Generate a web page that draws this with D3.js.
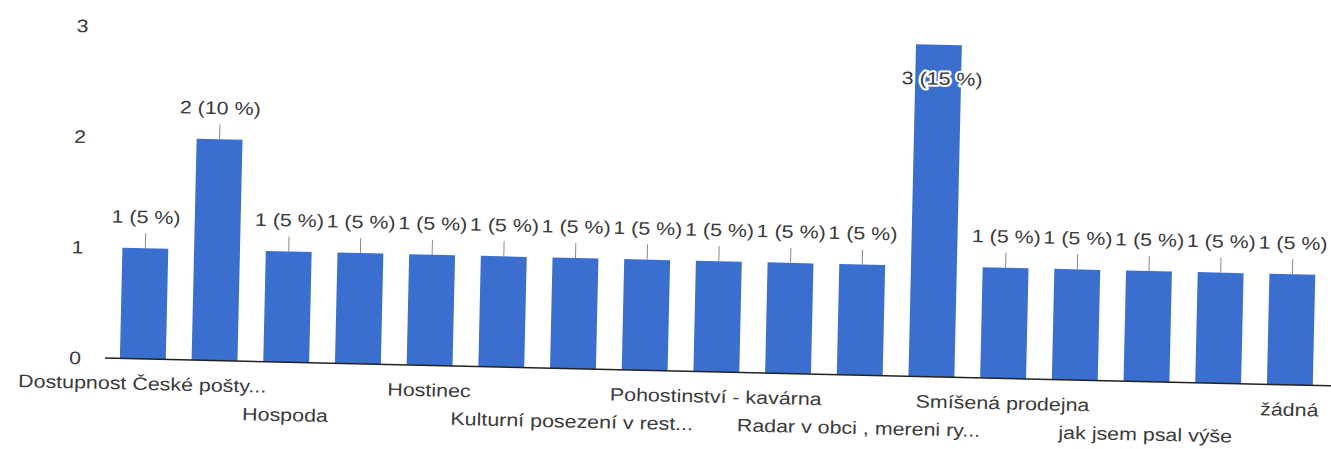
<!DOCTYPE html>
<html>
<head>
<meta charset="utf-8">
<script src="https://cdn.jsdelivr.net/npm/d3@7"></script>
<style>
  html, body { margin: 0; padding: 0; background: #fff; }
  svg { display: block; }
  text { font-family: "Liberation Sans", Arial, sans-serif; }
</style>
</head>
<body>
<svg id="chart" width="1331" height="449"></svg>
<script>
// ---- data ----
const categoryLabels = [
  "Dostupnost České pošty...", "", "Hospoda", "", "Hostinec", "",
  "Kulturní posezení v rest...", "", "Pohostinství - kavárna", "",
  "Radar v obci , mereni ry...", "", "Smíšená prodejna", "",
  "jak jsem psal výše", "", "žádná"
];
const counts = [1, 2, 1, 1, 1, 1, 1, 1, 1, 1, 1, 3, 1, 1, 1, 1, 1];
const percents = [5, 10, 5, 5, 5, 5, 5, 5, 5, 5, 5, 15, 5, 5, 5, 5, 5];
const yTicks = [0, 1, 2, 3];

// ---- layout ----
const svg = d3.select("#chart");
const x0 = 105, yBase = 358, yTop = 26;
const fs = 18, sx = 1.19;
const barColor = "#3b6fcf";
const textColor = "#3a3a3a";

const g = svg.append("g").attr("transform", `rotate(1.3, ${x0}, ${yBase})`);

const x = d3.scaleBand()
  .domain(d3.range(counts.length))
  .range([107, 1326])
  .paddingInner(0.36)
  .paddingOuter(0.18);

const y = d3.scaleLinear().domain([0, 3]).range([yBase, yTop]);

// y axis
const yAxis = g.append("g")
  .attr("transform", `translate(${x0},0)`)
  .call(d3.axisLeft(y).tickValues(yTicks).tickSize(0).tickFormat(d3.format("d")));
yAxis.select(".domain").remove();
yAxis.selectAll("text")
  .attr("x", null).attr("dy", "0.35em")
  .attr("transform", `translate(-17,0) scale(${sx},1)`)
  .attr("text-anchor", "end")
  .style("font-size", fs + "px")
  .attr("fill", textColor);
yAxis.selectAll(".tick text")
  .attr("transform", `translate(-24,0) scale(${sx},1)`);

// bars
g.selectAll("rect.bar")
  .data(counts)
  .join("rect")
  .attr("class", "bar")
  .attr("x", (d, i) => x(i))
  .attr("width", x.bandwidth())
  .attr("y", d => y(d))
  .attr("height", d => y(0) - y(d))
  .attr("fill", barColor);

// baseline
g.append("line")
  .attr("x1", x0).attr("x2", 1345)
  .attr("y1", yBase).attr("y2", yBase)
  .attr("stroke", "#222").attr("stroke-width", 1.5);

// x axis labels (staggered in two rows)
const xAxis = g.append("g")
  .attr("transform", `translate(0,${yBase})`)
  .call(d3.axisBottom(x).tickSize(0).tickFormat(i => categoryLabels[i]));
xAxis.select(".domain").remove();
xAxis.selectAll("text")
  .attr("y", null).attr("dy", null)
  .attr("transform", (i) => `translate(0,${(i / 2) % 2 === 1 ? 59 : 31}) scale(${sx},1)`)
  .attr("text-anchor", "middle")
  .style("font-size", fs + "px")
  .attr("fill", textColor);

// data labels
const labels = g.append("g");
counts.forEach((v, i) => {
  const cx = x(i) + x.bandwidth() / 2;
  const txt = `${v} (${percents[i]} %)`;
  const outside = y(v) - 25 > 40;
  if (outside) {
    labels.append("line")
      .attr("x1", cx).attr("x2", cx)
      .attr("y1", y(v)).attr("y2", y(v) - 15)
      .attr("stroke", "#888").attr("stroke-width", 1);
    labels.append("text")
      .attr("transform", `translate(${cx},${y(v) - 25}) scale(${sx},1)`)
      .attr("text-anchor", "middle")
      .style("font-size", fs + "px")
      .attr("fill", textColor)
      .text(txt);
  } else {
    labels.append("text")
      .attr("transform", `translate(${cx + 4},${y(v) + 40}) scale(${sx},1)`)
      .attr("text-anchor", "middle")
      .style("font-size", fs + "px")
      .attr("fill", textColor)
      .attr("stroke", "#fff").attr("stroke-width", 4)
      .attr("paint-order", "stroke")
      .attr("stroke-linejoin", "round")
      .text(txt);
  }
});
</script>
</body>
</html>
